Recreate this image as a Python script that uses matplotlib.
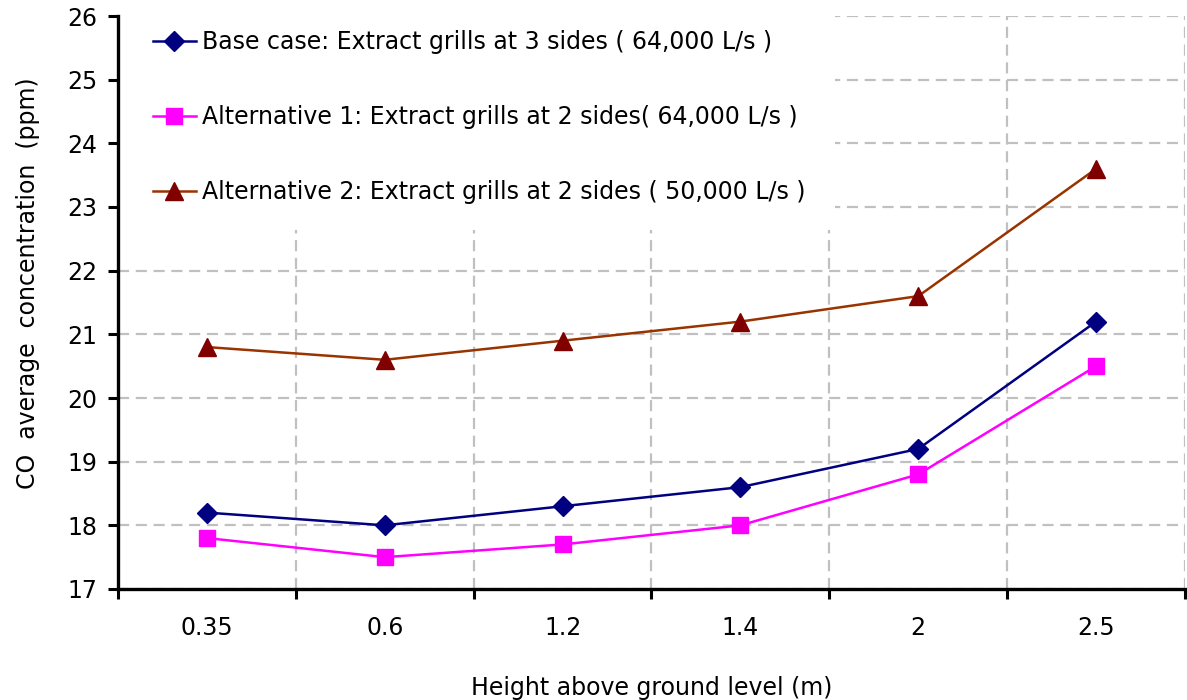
import matplotlib.pyplot as plt
from matplotlib.patches import Rectangle
from matplotlib.ticker import FixedLocator, NullFormatter

plt.rcParams['font.family'] = ['DejaVu Sans']

# Data
heights = ["0.35", "0.6", "1.2", "1.4", "2", "2.5"]
base_case = [18.2, 18.0, 18.3, 18.6, 19.2, 21.2]
alternative_1 = [17.8, 17.5, 17.7, 18.0, 18.8, 20.5]
alternative_2 = [20.8, 20.6, 20.9, 21.2, 21.6, 23.6]

labels = ["Base case: Extract grills at 3 sides ( 64,000 L/s )",
          "Alternative 1: Extract grills at 2 sides( 64,000 L/s )",
          "Alternative 2: Extract grills at 2 sides ( 50,000 L/s )"]

fig = plt.figure(figsize=(11.87, 7.0), dpi=100)
ax = fig.add_axes([118 / 1187, 1 - 589 / 700, (1185 - 118) / 1187, (589 - 16) / 700])

x = list(range(len(heights)))
ax.plot(x, base_case, color="#000080", lw=1.8, marker="D", ms=10,
        mfc="#000080", mec="#000080", label=labels[0], zorder=3)
ax.plot(x, alternative_1, color="#FF00FF", lw=1.8, marker="s", ms=12,
        mfc="#FF00FF", mec="#FF00FF", label=labels[1], zorder=3)
ax.plot(x, alternative_2, color="#993300", lw=1.8, marker="^", ms=13,
        mfc="#800000", mec="#800000", label=labels[2], zorder=3)

ax.set_xlim(-0.5, len(heights) - 0.5)
ax.set_ylim(17, 26)
ax.set_yticks(range(17, 27))

# category boundaries as major ticks, labels on minor ticks
ax.xaxis.set_major_locator(FixedLocator([i - 0.5 for i in range(len(heights) + 1)]))
ax.xaxis.set_major_formatter(NullFormatter())
ax.xaxis.set_minor_locator(FixedLocator(x))
ax.set_xticklabels(heights, minor=True)
ax.tick_params(axis="x", which="major", direction="out", length=7, width=2.2)
ax.tick_params(axis="x", which="minor", length=0, pad=19.5, labelsize=17)
ax.tick_params(axis="y", direction="out", length=7, width=2.2, pad=8, labelsize=17)

ax.grid(True, which="major", color="#c0c0c0", lw=1.6, ls=(0, (5, 3)))
ax.set_axisbelow(True)

for side in ["top", "right"]:
    ax.spines[side].set_visible(False)
for side in ["left", "bottom"]:
    ax.spines[side].set_linewidth(2.4)

ax.set_xlabel("Height above ground level (m)", fontsize=17, labelpad=26)
ax.set_ylabel("CO  average  concentration  (ppm)", fontsize=17)
ax.yaxis.set_label_coords(-0.073, 0.534)

# white box behind the legend hides the grid there
ax.add_patch(Rectangle((0, 0.627), 0.672, 0.39, transform=ax.transAxes,
                       facecolor="white", edgecolor="none", zorder=1, clip_on=False))

leg = ax.legend(loc="upper left", bbox_to_anchor=(0.033, 0.975), fontsize=17,
                frameon=False, labelspacing=2.15, handlelength=1.8,
                handletextpad=0.25, borderpad=0.0, borderaxespad=0.0)

fig.savefig("out.png", dpi=100)
